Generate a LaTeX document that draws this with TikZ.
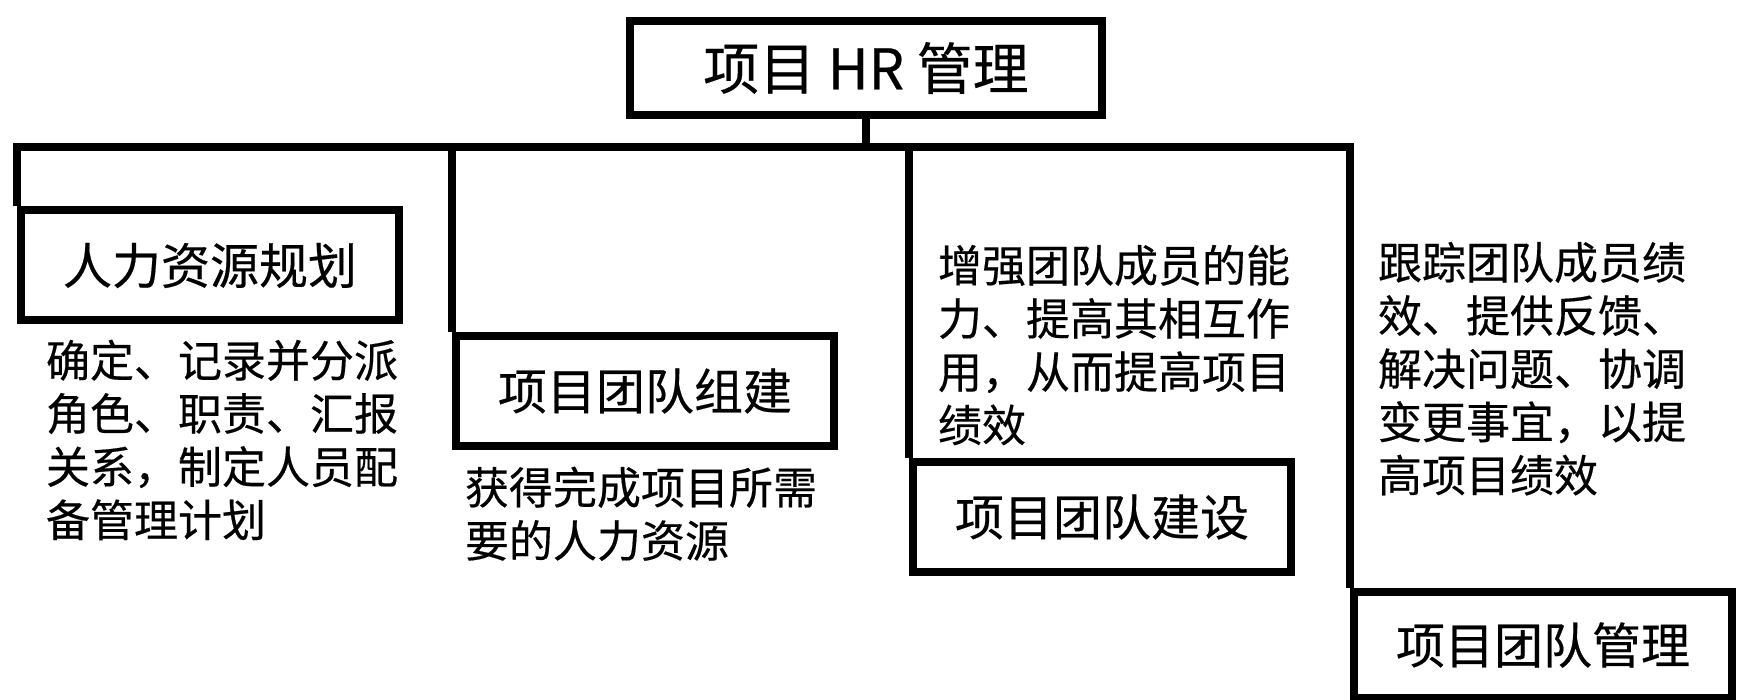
\documentclass[tikz,border=0pt]{standalone}
\usepackage{fontspec}
\setmainfont[FakeBold=0.4]{Noto Sans CJK SC}
\begin{document}
\begin{tikzpicture}[x=0.5pt,y=-0.5pt,line width=4pt,
        box/.style={draw,rectangle,inner sep=0pt,minimum width=189pt,minimum height=55pt,font=\fontsize{24.5}{29}\selectfont},
        note/.style={anchor=base west,inner sep=0pt,align=left,font=\fontsize{22}{26.6}\selectfont}]
        \useasboundingbox (0,0) rectangle (1741,700);

        \node[box,minimum width=236pt,minimum height=47pt,font=\fontsize{28}{32}\selectfont] (hr) at (866,68) {项目 HR 管理};

        \node[box] (plan) at (210,265.5) {人力资源规划};
        \node[box] (acquire) at (645,391) {项目团队组建};
        \node[box] (develop) at (1102,517) {项目团队建设};
        \node[box,minimum height=53pt] (manage) at (1543,645) {项目团队管理};

        \node[note] (plantxt) at (42,536.6) {确定、记录并分派\\角色、职责、汇报\\关系，制定人员配\\备管理计划};
        \node[note] (acquiretxt) at (461,557.2) {获得完成项目所需\\要的人力资源};
        \node[note] (developtxt) at (934,441.6) {增强团队成员的能\\力、提高其相互作\\用，从而提高项目\\绩效};
        \node[note] (managetxt) at (1374,491.8) {跟踪团队成员绩\\效、提供反馈、\\解决问题、协调\\变更事宜，以提\\高项目绩效};

        \coordinate (bar) at (866,147.5);
        \draw[-] (hr.south) -- (hr.south |- bar);
        \draw[-] (plan.north west) -- (plan.north west |- bar) -- (manage.north west |- bar) -- (manage.north west);
        \draw[-] (acquire.north west |- bar) -- (acquire.north west);
        \draw[-] (develop.north west |- bar) -- (develop.north west);

\end{tikzpicture}
\end{document}
